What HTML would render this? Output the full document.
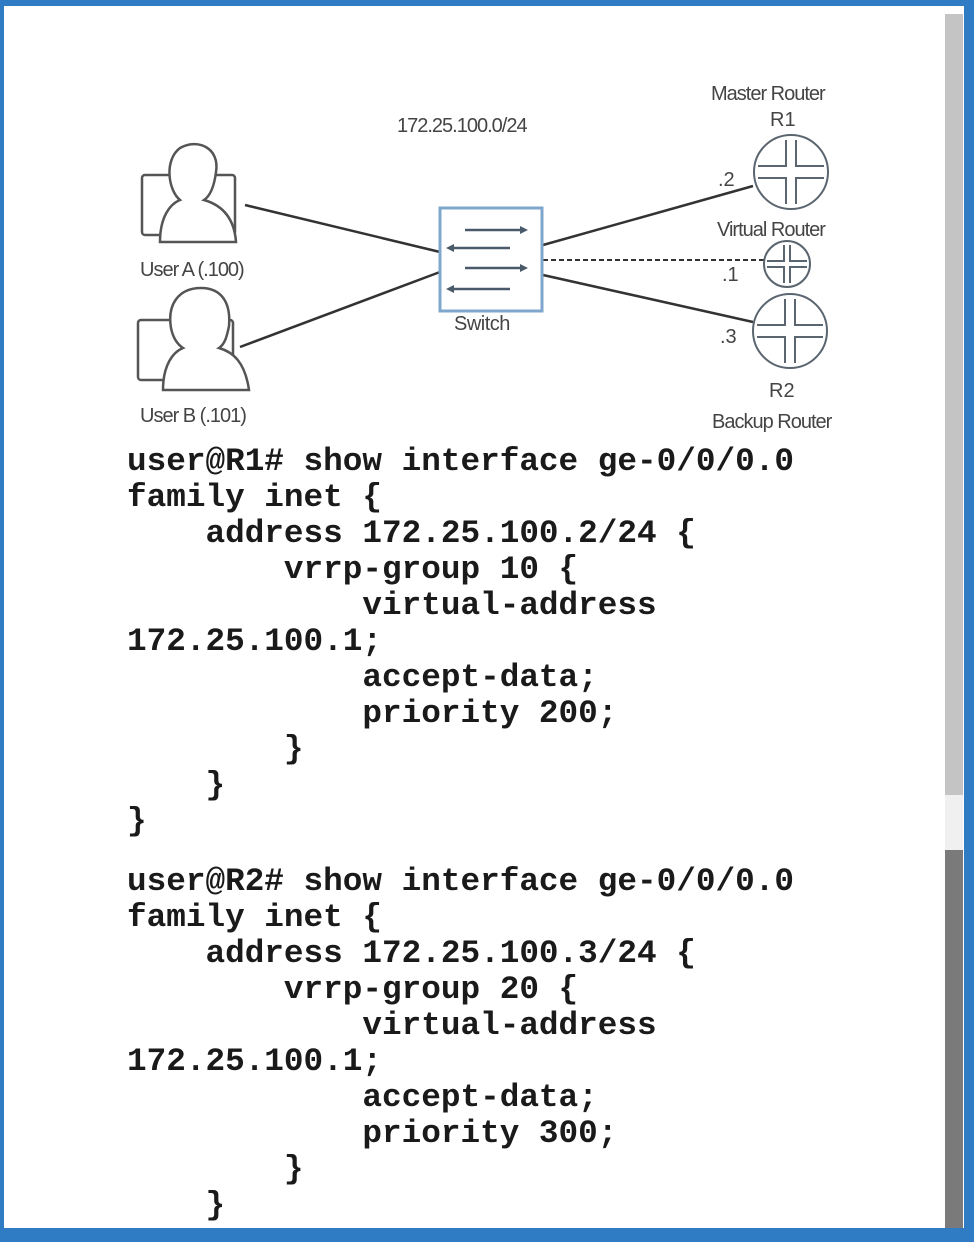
<!DOCTYPE html>
<html><head><meta charset="utf-8"><style>
html,body{margin:0;padding:0;}
body{width:974px;height:1242px;position:relative;background:#fff;overflow:hidden;}
.frame{position:absolute;left:0;top:0;width:974px;height:1242px;box-sizing:border-box;border-top:6px solid #2f7bc4;border-left:4px solid #2f7bc4;border-right:10px solid #2f7bc4;border-bottom:14px solid #2f7bc4;}
.track{position:absolute;left:945px;top:14px;width:18px;height:781px;background:#c4c4c4;}
.gap{position:absolute;left:945px;top:795px;width:18px;height:55px;background:#f0f0f0;}
.thumb{position:absolute;left:945px;top:850px;width:18px;height:378px;background:#7a7a7a;}
pre{position:absolute;left:127px;margin:0;font-family:"Liberation Mono",monospace;font-weight:bold;font-size:32.7px;line-height:36px;color:#1a1a1a;}
svg{position:absolute;left:0;top:0;}
</style></head><body>
<svg width="974" height="440" font-family="Liberation Sans, sans-serif">
<g stroke="#333" stroke-width="2.5" fill="none">
<line x1="245" y1="205" x2="440" y2="252"/>
<line x1="240" y1="347" x2="440" y2="272"/>
<line x1="543" y1="245" x2="753" y2="186"/>
<line x1="543" y1="275" x2="753" y2="322"/>
<line x1="543" y1="260" x2="764" y2="260" stroke-dasharray="5,3" stroke-width="2"/>
</g>
<rect x="440" y="208" width="102" height="103" fill="#fff" stroke="#7fa6cc" stroke-width="3"/>
<g stroke="#4a5a6a" stroke-width="2.5">
<line x1="465" y1="230" x2="522" y2="230"/><line x1="452" y1="248" x2="510" y2="248"/>
<line x1="465" y1="268" x2="522" y2="268"/><line x1="452" y1="289" x2="510" y2="289"/>
</g>
<g fill="#4a5a6a">
<path d="M528 230 l-8 -4 v8z"/><path d="M446 248 l8 -4 v8z"/><path d="M528 268 l-8 -4 v8z"/><path d="M446 289 l8 -4 v8z"/>
</g>
<g fill="none" stroke="#5a6570" stroke-width="2">
<circle cx="791" cy="172" r="37"/><circle cx="787" cy="264" r="23"/><circle cx="790" cy="331" r="37"/>
<path d="M786 140 v26 h-28 M796 140 v26 h28 M786 204 v-26 h-28 M796 204 v-26 h28"/>
<path d="M785 299 v26 h-28 M795 299 v26 h28 M785 363 v-26 h-28 M795 363 v-26 h28"/>
<path d="M784 245 v16 h-17 M790 245 v16 h17 M784 283 v-16 h-17 M790 283 v-16 h17"/>
</g>
<g fill="none" stroke="#555" stroke-width="2.5">
<rect x="142" y="175" width="93" height="60" rx="3"/>
<path d="M160 242 c0-25 10-38 20-42 c-12-10-16-40 0-52 c18-10 40 0 36 24 c-2 16-6 24-12 28 c14 4 30 14 32 42z" fill="#fff"/>
<rect x="138" y="320" width="95" height="60" rx="3"/>
<path d="M163 390 c0-25 10-38 20-42 c-6-4-10-10-12-20 c-4-24 8-40 30-40 c20 0 30 14 28 38 c-2 10-4 18-10 22 c14 4 26 14 30 42z" fill="#fff"/>
</g>
<g fill="#444" font-size="20">
<text x="397" y="132" letter-spacing="-1">172.25.100.0/24</text>
<text x="711" y="100" letter-spacing="-1">Master Router</text>
<text x="770" y="126">R1</text>
<text x="717" y="236" letter-spacing="-1">Virtual Router</text>
<text x="769" y="397">R2</text>
<text x="712" y="428" letter-spacing="-1">Backup Router</text>
<text x="140" y="276" letter-spacing="-1">User A (.100)</text>
<text x="140" y="422" letter-spacing="-1">User B (.101)</text>
<text x="454" y="330" letter-spacing="-0.5">Switch</text>
<text x="718" y="186">.2</text><text x="722" y="281">.1</text><text x="720" y="343">.3</text>
</g>
</svg>
<pre style="top:444px">user@R1# show interface ge-0/0/0.0
family inet {
    address 172.25.100.2/24 {
        vrrp-group 10 {
            virtual-address
172.25.100.1;
            accept-data;
            priority 200;
        }
    }
}</pre>
<pre style="top:864px">user@R2# show interface ge-0/0/0.0
family inet {
    address 172.25.100.3/24 {
        vrrp-group 20 {
            virtual-address
172.25.100.1;
            accept-data;
            priority 300;
        }
    }</pre>
<div class="track"></div><div class="gap"></div><div class="thumb"></div>
<div class="frame"></div>
</body></html>
